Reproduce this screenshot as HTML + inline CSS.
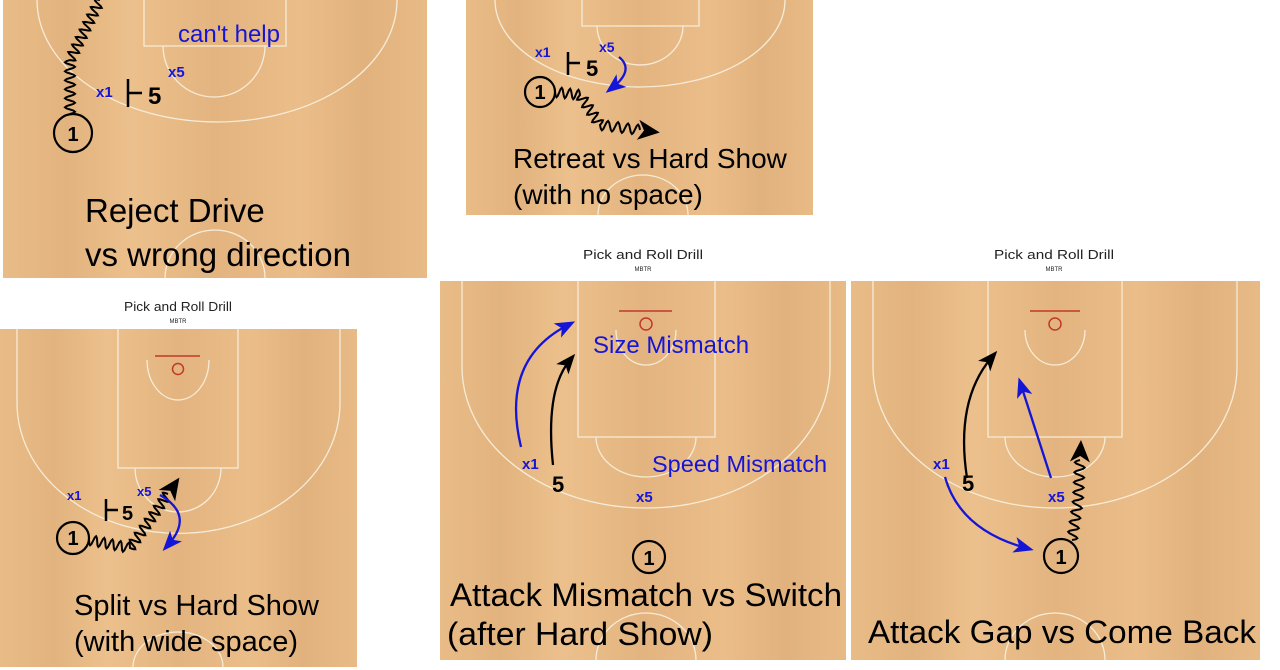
<!DOCTYPE html>
<html><head><meta charset="utf-8"><style>
html,body{margin:0;padding:0;background:#fff;width:1280px;height:670px;overflow:hidden}
svg{display:block}
text{font-family:"Liberation Sans",Arial,sans-serif}
</style></head><body>
<svg id="s" width="1280" height="670" viewBox="0 0 1280 670" xmlns="http://www.w3.org/2000/svg">
<defs>
<linearGradient id="wood" x1="0" y1="0" x2="1" y2="0">
<stop offset="0" stop-color="#e9bc87"/><stop offset="0.15" stop-color="#e2b37e"/><stop offset="0.3" stop-color="#ecc08c"/><stop offset="0.5" stop-color="#e3b480"/><stop offset="0.7" stop-color="#ebbd89"/><stop offset="0.85" stop-color="#e1b27d"/><stop offset="1" stop-color="#e8ba86"/>
</linearGradient>
<marker id="au" markerWidth="20" markerHeight="20" refX="12" refY="10" orient="auto" markerUnits="userSpaceOnUse" viewBox="0 0 20 20"><path d="M0,2 L20,10 L0,18 L5,10 z" fill="#1515d8"/></marker>
<marker id="ak" markerWidth="20" markerHeight="20" refX="12" refY="10" orient="auto" markerUnits="userSpaceOnUse" viewBox="0 0 20 20"><path d="M0,2 L20,10 L0,18 L5,10 z" fill="#000"/></marker>
</defs>
<g fill="none" stroke="#f6ecd8" stroke-width="1.3">
<rect x="3" y="0" width="424" height="278" fill="url(#wood)" stroke="none"/>
<path d="M144,0 V46 H286 V0"/>
<path d="M163,46 A51,51 0 0 0 265,46"/>
<path d="M37,0 A180,122 0 0 0 397,0"/>
<path d="M165,278 A50,48 0 0 1 265,278"/>
<rect x="466" y="0" width="347" height="215" fill="url(#wood)" stroke="none"/>
<path d="M582,0 V26 H699 V0"/>
<path d="M597,26 A43,39 0 0 0 683,26"/>
<path d="M495,0 A145,87 0 0 0 785,0"/>
<path d="M598,215 A45,40 0 0 1 688,215"/>
<rect x="0" y="329" width="357" height="338" fill="url(#wood)" stroke="none"/>
<path d="M118,329 V468 H238 V329"/>
<path d="M147,360 A31,40 0 0 0 209,360"/>
<path d="M135,468 A43,44 0 0 0 221,468"/>
<path d="M17,329 V403 A161,130 0 0 0 340,403 V329"/>
<path d="M133,667 A45,35 0 0 1 223,667"/>
<rect x="440" y="281" width="406" height="379" fill="url(#wood)" stroke="none"/>
<path d="M578,281 V437 H715 V281"/>
<path d="M616,330 A30,35 0 0 0 676,330"/>
<path d="M596,437 A50,40 0 0 0 696,437"/>
<path d="M462,281 V367 A184,141 0 0 0 830,367 V281"/>
<path d="M596,660 A50,47 0 0 1 696,660"/>
<rect x="851" y="281" width="409" height="379" fill="url(#wood)" stroke="none"/>
<path d="M988,281 V437 H1122 V281"/>
<path d="M1025,330 A30,35 0 0 0 1085,330"/>
<path d="M1005,437 A50,40 0 0 0 1105,437"/>
<path d="M873,281 V367 A182,141 0 0 0 1237,367 V281"/>
<path d="M1005,660 A50,47 0 0 1 1105,660"/>
</g>
<g stroke="#c0392b" fill="none" stroke-width="1.5">
<line x1="155" y1="356" x2="200" y2="356"/><circle cx="178" cy="369" r="5.5"/>
<line x1="619" y1="311" x2="672" y2="311"/><circle cx="646" cy="324" r="6"/>
<line x1="1030" y1="311" x2="1080" y2="311"/><circle cx="1055" cy="324" r="6"/>
</g>
<g fill="#222" text-anchor="middle">
<text x="178" y="311" font-size="13" textLength="108" lengthAdjust="spacingAndGlyphs">Pick and Roll Drill</text><text x="178" y="323" font-size="6">MBTR</text>
<text x="643" y="259" font-size="13" textLength="120" lengthAdjust="spacingAndGlyphs">Pick and Roll Drill</text><text x="643" y="271" font-size="6">MBTR</text>
<text x="1054" y="259" font-size="13" textLength="120" lengthAdjust="spacingAndGlyphs">Pick and Roll Drill</text><text x="1054" y="271" font-size="6">MBTR</text>
</g>
<g id="waves" fill="none" stroke="#000" stroke-width="2"></g>
<g fill="none" stroke="#000" stroke-width="2.2">
<circle cx="73" cy="133" r="19"/><circle cx="540" cy="92" r="15"/><circle cx="73" cy="538" r="16"/>
<circle cx="649" cy="557" r="16"/><circle cx="1061" cy="556" r="17"/>
</g>
<g font-weight="bold" font-size="20" text-anchor="middle" fill="#000">
<text x="73" y="141">1</text><text x="540" y="99">1</text><text x="73" y="545">1</text>
<text x="649" y="565">1</text><text x="1061" y="564">1</text>
</g>
<g stroke="#000" stroke-width="2.5">
<path d="M128,79 V107 M128,93 H142"/>
<path d="M568,52 V75 M568,63 H580"/>
<path d="M106,499 V521 M106,510 H118"/>
</g>
<g font-weight="bold" fill="#000">
<text x="148" y="104" font-size="24">5</text>
<text x="586" y="76" font-size="22">5</text>
<text x="122" y="520" font-size="20">5</text>
<text x="552" y="492" font-size="22">5</text>
<text x="962" y="491" font-size="22">5</text>
</g>
<g font-weight="bold" fill="#1515d8">
<text x="96" y="97" font-size="15">x1</text><text x="168" y="77" font-size="15">x5</text>
<text x="535" y="57" font-size="14">x1</text><text x="599" y="52" font-size="14">x5</text>
<text x="67" y="500" font-size="13">x1</text><text x="137" y="496" font-size="13">x5</text>
<text x="522" y="469" font-size="15">x1</text><text x="636" y="502" font-size="15">x5</text>
<text x="933" y="469" font-size="15">x1</text><text x="1048" y="502" font-size="15">x5</text>
</g>
<g fill="#1515d8">
<text x="178" y="42" font-size="24">can't help</text>
<text x="593" y="353" font-size="24">Size Mismatch</text>
<text x="652" y="472" font-size="23.5">Speed Mismatch</text>
</g>
<g fill="none" stroke-width="2.3">
<path d="M521,447 Q500,360 568,325" stroke="#1515d8" marker-end="url(#au)"/>
<path d="M553,465 Q545,390 570,360" stroke="#000" marker-end="url(#ak)"/>
<path d="M967,478 Q955,400 992,357" stroke="#000" marker-end="url(#ak)"/>
<path d="M1051,478 L1021,385" stroke="#1515d8" marker-end="url(#au)"/>
<path d="M945,477 Q960,530 1026,548" stroke="#1515d8" marker-end="url(#au)"/>
<path d="M619,57 Q635,70 612,88" stroke="#1515d8" marker-end="url(#au)"/>
<path d="M160,495 Q195,515 168,545" stroke="#1515d8" marker-end="url(#au)"/>
</g>
<g fill="#000" font-size="33">
<text x="85" y="222">Reject Drive</text>
<text x="85" y="266">vs wrong direction</text>
</g>
<g fill="#000" font-size="28">
<text x="513" y="168">Retreat vs Hard Show</text>
<text x="513" y="204">(with no space)</text>
</g>
<g fill="#000" font-size="29">
<text x="74" y="615">Split vs Hard Show</text>
<text x="74" y="651">(with wide space)</text>
</g>
<g fill="#000" font-size="32">
<text x="450" y="606" textLength="392" lengthAdjust="spacingAndGlyphs">Attack Mismatch vs Switch</text>
<text x="447" y="645" textLength="266" lengthAdjust="spacingAndGlyphs">(after Hard Show)</text>
<text x="868" y="643" textLength="388" lengthAdjust="spacingAndGlyphs">Attack Gap vs Come Back</text>
</g>
</svg>
<script>
(function(){
var g=document.getElementById('waves');
function wave(pts,amp,wl,head){
  var d='';var first=true;
  for(var i=0;i<pts.length-1;i++){
    var a=pts[i],b=pts[i+1],dx=b[0]-a[0],dy=b[1]-a[1],L=Math.hypot(dx,dy);
    var nx=-dy/L,ny=dx/L,n=Math.max(1,Math.round(L/wl));
    for(var k=0;k<=n*8;k++){
      var t=k/(n*8),s=Math.sin(t*n*2*Math.PI)*amp;
      var x=a[0]+dx*t+nx*s,y=a[1]+dy*t+ny*s;
      d+=(first?'M':'L')+x.toFixed(1)+','+y.toFixed(1);first=false;
    }
  }
  var p=document.createElementNS('http://www.w3.org/2000/svg','path');
  p.setAttribute('d',d);g.appendChild(p);
  if(head){
    var a=pts[pts.length-2],b=pts[pts.length-1],ang=Math.atan2(b[1]-a[1],b[0]-a[0]);
    var h=document.createElementNS('http://www.w3.org/2000/svg','path');
    var c=Math.cos(ang),s2=Math.sin(ang);
    function P(x,y){return (b[0]+x*c-y*s2).toFixed(1)+','+(b[1]+x*s2+y*c).toFixed(1);}
    h.setAttribute('d','M'+P(20,0)+'L'+P(-2,-10)+'L'+P(4,0)+'L'+P(-2,10)+'Z');
    h.setAttribute('fill','#000');h.setAttribute('stroke','none');g.appendChild(h);
  }
}
wave([[70,114],[70,60],[85,30],[100,0]],5,9,false);
wave([[555,92],[580,95],[600,125],[640,130]],5,9,true);
wave([[89,540],[130,548],[150,520],[168,494]],5,9,true);
wave([[1072,540],[1078,500],[1080,460]],5,9,true);
})();
</script>
</body></html>
